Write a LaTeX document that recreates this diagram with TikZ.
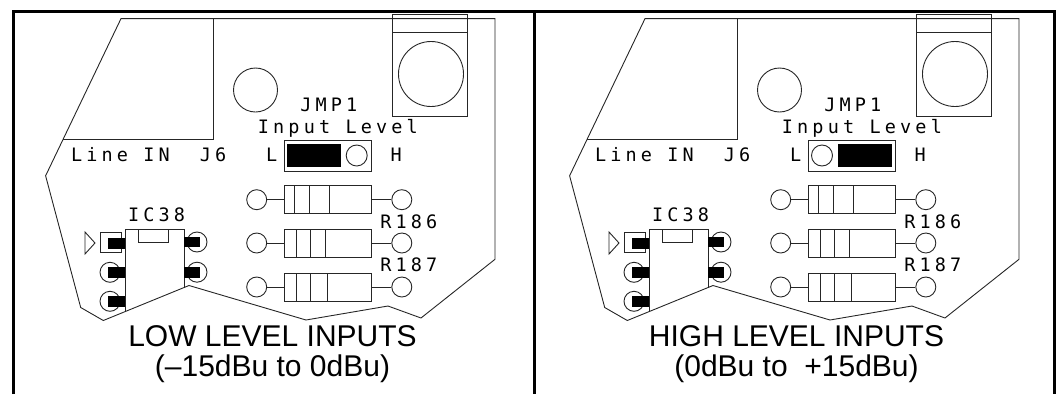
\documentclass[tikz,border=0pt]{standalone}
\usepackage{fontspec}
\setmainfont{Liberation Sans}
\newfontfamily\cadfont{DejaVu Sans Mono}[LetterSpace=22.5]
\newcommand\cadsp{\hspace{15.3pt}}
\usetikzlibrary{positioning}

\begin{document}
\begin{tikzpicture}
  [x=1pt,y=-1pt,every node/.style={inner sep=0pt},
   board/.style={line width=0.9pt,black!85},
   pad/.style={circle,draw,line width=0.9pt,black!85,minimum size=20pt},
   body/.style={rectangle,draw,line width=0.9pt,black!85,minimum width=87pt,minimum height=28pt},
   cad/.style={font=\cadfont\fontsize{18.5}{18.5}\selectfont,anchor=base},
   caption/.style={font=\fontsize{30}{30}\selectfont,anchor=base}]
  \useasboundingbox (0,0) rectangle (1058,394);
  % frame
  \draw[line width=3pt] (13,394) -- (13,11) -- (1054,11) -- (1054,394);
  \draw[line width=3pt] (534,11) -- (534,394);
  \foreach \p/\dx/\title/\range/\jx/\jc in
    {a/0/{LOW LEVEL INPUTS}/{(–15dBu to 0dBu)}/286.7/356.7,
     b/524/{HIGH LEVEL INPUTS}/{(0dBu to\ \ +15dBu)}/314/298}
  {
  \begin{scope}[xshift=\dx pt]
    % board and connector
    \draw[board] (121,18.6) -- (45.6,175.8) -- (80.7,307.5) -- (103.3,320.5) -- (189,285.5)
      -- (306,320) -- (388,306) -- (421,318) -- (495,259.3) -- (495,18.6) -- cycle;
    \draw[board] (63,139.6) -- (213,139.6) -- (213,18.6);
    \draw[board] (392,14.2) rectangle (467.5,116) (392,32) -- (467.5,32);
    \node[pad,minimum size=65pt] (\p-pot) at (431,74) {};
    \node[pad,minimum size=44pt] (\p-hole) at (255.5,90) {};
    % jumper
    \node[body,minimum width=87.4pt,minimum height=31pt] (\p-jmp) at (328,155.5) {};
    \fill (\jx,144) rectangle +(54.3,22.7);
    \node[pad,minimum size=21pt] (\p-jpin) at (\jc,155.5) {};
    \node[cad] (\p-jname) at (328.8,111.7) {JMP1};
    \node[cad] (\p-jlvl) at (337.9,133.3) {Input\cadsp Level};
    \node[cad] (\p-line) at (120.4,161.7) {Line\cadsp IN};
    \node[cad] (\p-j6) at (213.1,161.7) {J6};
    \node[cad] (\p-lo) at (271.6,161.7) {L};
    \node[cad] (\p-hi) at (396.1,161.7) {H};
    % resistors
    \foreach \r/\y/\ba/\bb/\bc in {1/199.7/294.3/309/329,2/243/296.7/310/325.7,3/287/296.7/310/327}
    {
      \node[body] (\p-r\r) at (327.7,\y) {};
      \node[pad,left=16.6pt of \p-r\r] (\p-r\r-l) {};
      \node[pad,right=19.7pt of \p-r\r] (\p-r\r-r) {};
      \draw[board] (\p-r\r-l) -- (\p-r\r) (\p-r\r) -- (\p-r\r-r);
      \foreach \bx in {\ba,\bb,\bc}
        \draw[board] (\bx,\y-14) -- (\bx,\y+14);
    }
    \node[cad] (\p-r186) at (408.8,228.3) {R186};
    \node[cad] (\p-r187) at (408.8,271) {R187};
    % IC38
    \draw[board] (125,311.8) -- (125,229) -- (184,229) -- (184,288);
    \draw[board] (138.6,229) rectangle (168.5,242.7);
    \draw[board] (100.7,232) rectangle (121.7,252.7);
    \draw[board] (85,232) -- (95,243) -- (85,254) -- cycle;
    \foreach \i/\yy in {2/272.3,3/301.3}
      \node[pad] (\p-pin\i) at (110,\yy) {};
    \foreach \i/\yy in {8/242,7/272.2}
      \node[pad] (\p-pin\i) at (197,\yy) {};
    \foreach \yy in {243.5,272.3,301.3}
      \fill (108,\yy-5.2) rectangle (125,\yy+5.2);
    \foreach \yy in {242,272.2}
      \fill (184,\yy-5.3) rectangle (199.5,\yy+5.3);
    \node[cad] (\p-ic) at (156.6,221.7) {IC38};
    % captions
    \node[caption] (\p-title) at (272.5,346.3) {\title};
    \node[caption] (\p-range) at (272.5,376.3) {\range};
  \end{scope}
  }
\end{tikzpicture}
\end{document}
